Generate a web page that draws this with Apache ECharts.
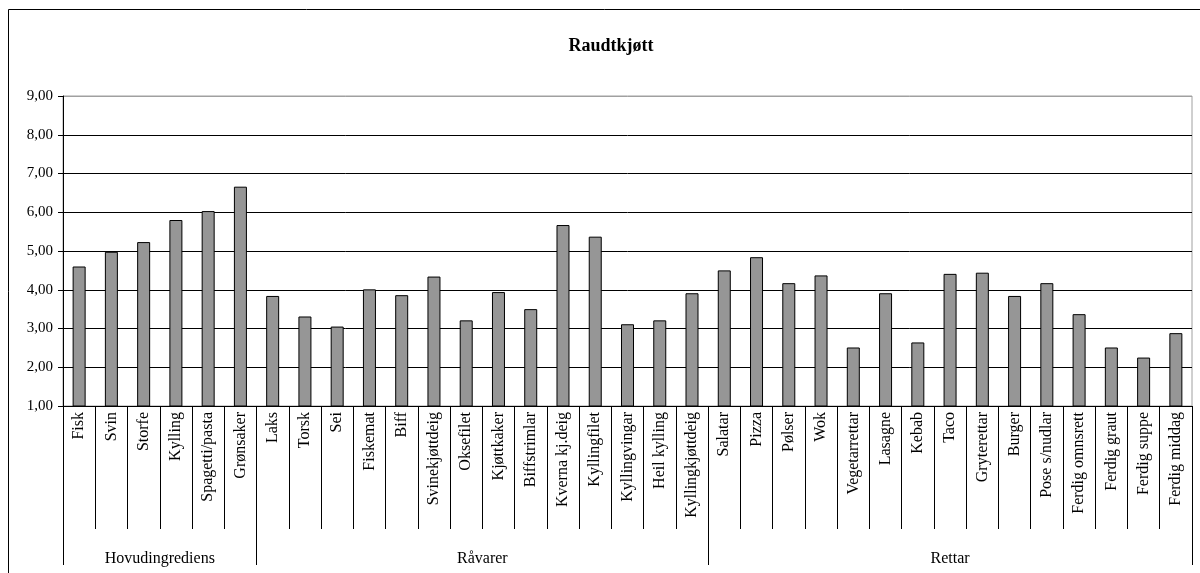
<!DOCTYPE html>
<html lang="no">
<head>
<meta charset="utf-8">
<title>Raudtkjøtt</title>
<script src="https://cdn.jsdelivr.net/npm/echarts@6/dist/echarts.min.js"></script>
<style>
  html, body { margin: 0; padding: 0; background: #fff; }
  #main { width: 1200px; height: 573px; }
</style>
</head>
<body>
<div id="main"></div>
<script type="text/javascript">
// kategoriar (nedste nivå på x-aksen)
var kategoriar = [
    'Fisk', 'Svin', 'Storfe', 'Kylling', 'Spagetti/pasta', 'Grønsaker',
    'Laks', 'Torsk', 'Sei', 'Fiskemat', 'Biff', 'Svinekjøttdeig', 'Oksefilet',
    'Kjøttkaker', 'Biffstrimlar', 'Kverna kj.deig', 'Kyllingfilet', 'Kyllingvingar',
    'Heil kylling', 'Kyllingkjøttdeig',
    'Salatar', 'Pizza', 'Pølser', 'Wok', 'Vegetarrettar', 'Lasagne', 'Kebab',
    'Taco', 'Gryterettar', 'Burger', 'Pose s/nudlar', 'Ferdig omnsrett',
    'Ferdig graut', 'Ferdig suppe', 'Ferdig middag'
];

// verdiar avlest frå figuren
var verdiar = [
    4.60, 4.98, 5.23, 5.80, 6.03, 6.66,
    3.84, 3.31, 3.05, 4.01, 3.86, 4.34, 3.21,
    3.94, 3.50, 5.67, 5.37, 3.11,
    3.21, 3.91,
    4.50, 4.84, 4.17, 4.37, 2.51, 3.91, 2.64,
    4.41, 4.44, 3.84, 4.17, 3.37,
    2.51, 2.25, 2.88
];

// grupper (øvste nivå), med tal på kategoriar i kvar
var grupper = ['Hovudingrediens', 'Råvarer', 'Rettar'];
var gruppeStorleik = [6, 14, 15];

// y-akse
var yMin = 1, yMax = 9, yStep = 1;

// grenser og midtpunkt for gruppene
var grenser = [0];
var midtar = [];
for (var i = 0; i < gruppeStorleik.length; i++) {
    var start = grenser[grenser.length - 1];
    grenser.push(start + gruppeStorleik[i]);
    midtar.push(start + gruppeStorleik[i] / 2);
}

var serif = '"Liberation Serif", "Times New Roman", serif';

var myChart = echarts.init(document.getElementById('main'));

var splitColors = [];
for (var v = yMin; v <= yMax; v += yStep) {
    splitColors.push(v === yMax ? '#a0a0a0' : '#000');
}

var option = {
    animation: false,
    title: {
        text: 'Raudtkjøtt',
        left: 606,
        top: 32,
        textAlign: 'center',
        textStyle: { fontFamily: serif, fontWeight: 'bold', fontSize: 18, color: '#000' }
    },
    graphic: [{
        type: 'rect',
        shape: { x: 8.5, y: 9.5, width: 1300, height: 700 },
        style: { fill: 'none', stroke: '#000', lineWidth: 1 },
        silent: true
    }],
    grid: {
        left: 63,
        right: 8,
        top: 96,
        bottom: 167,
        show: true,
        borderColor: '#a0a0a0',
        borderWidth: 1,
        backgroundColor: 'transparent'
    },
    xAxis: [
        {
            type: 'category',
            data: kategoriar,
            boundaryGap: true,
            axisLine: { lineStyle: { color: '#000', width: 1 } },
            axisTick: { show: true, interval: 0, length: 123, lineStyle: { color: '#000' } },
            axisLabel: {
                interval: 0,
                rotate: 90,
                margin: 6,
                fontFamily: serif,
                fontSize: 16,
                color: '#000'
            },
            splitLine: { show: false }
        },
        {
            type: 'value',
            min: 0,
            max: kategoriar.length,
            position: 'bottom',
            axisLine: { show: false },
            axisTick: {
                show: true,
                customValues: grenser,
                length: 159,
                lineStyle: { color: '#000' }
            },
            axisLabel: {
                customValues: midtar,
                margin: 145,
                fontFamily: serif,
                fontSize: 16,
                color: '#000',
                formatter: function (val) {
                    var idx = midtar.indexOf(val);
                    return idx >= 0 ? grupper[idx] : '';
                }
            },
            splitLine: { show: false }
        }
    ],
    yAxis: {
        type: 'value',
        min: yMin,
        max: yMax,
        interval: yStep,
        axisLine: { show: true, lineStyle: { color: '#000' } },
        axisTick: { show: true, length: 5, lineStyle: { color: '#000' } },
        axisLabel: {
            margin: 10,
            fontFamily: serif,
            fontSize: 15,
            color: '#000',
            formatter: function (val) {
                return val.toFixed(2).replace('.', ',');
            }
        },
        splitLine: { show: true, lineStyle: { color: splitColors, width: 1 } }
    },
    series: [
        {
            name: 'Raudtkjøtt',
            type: 'bar',
            xAxisIndex: 0,
            data: verdiar,
            barWidth: 13,
            itemStyle: { color: '#969696', borderColor: '#000', borderWidth: 1 }
        }
    ]
};

myChart.setOption(option);
</script>
</body>
</html>
